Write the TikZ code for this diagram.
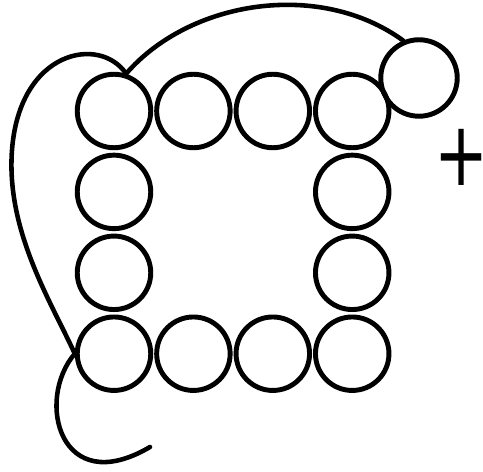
\documentclass[tikz,border=0pt]{standalone}
\usepackage{graphicx}
\usepackage{fontspec}
\newfontfamily\signfont{DejaVu Sans}
\usetikzlibrary{positioning}

\begin{document}
\begin{tikzpicture}[x=0.02cm, y=-0.02cm,
    bead/.style={circle, draw, line width=2.8pt, minimum size=1.47cm, inner sep=0pt},
    strand/.style={line width=2.6pt, line cap=round},
    sign/.style={inner sep=0pt, font=\fontsize{51}{51}\signfont}]
\useasboundingbox (0,0) rectangle (483,472);
% ring of beads, clockwise from top left
\node[bead] (p1) at (114,111) {};
\node[bead, right=0.02cm of p1] (p2) {};
\node[bead, right=0.02cm of p2] (p3) {};
\node[bead, right=0.02cm of p3] (p4) {};
\node[bead, below=0.05cm of p4] (p5) {};
\node[bead, below=0.05cm of p5] (p6) {};
\node[bead, below=0.05cm of p1] (p12) {};
\node[bead, below=0.05cm of p12] (p11) {};
\node[bead, below=0.05cm of p11] (p10) {};
\node[bead, right=0.02cm of p10] (p9) {};
\node[bead, right=0.02cm of p9] (p8) {};
\node[bead, right=0.02cm of p8] (p7) {};
% loose bead and sign
\node[bead, minimum size=1.53cm] (top) at (419,78) {};
\node[sign] (plus) at (462,157) {\scalebox{0.72}[1]{\makebox[0.7em]{+}}};
\coordinate (tail) at (150,447);
% strands
\draw[strand] (p1.72) .. controls (190,0) and (320,-20) .. (top.113);
\draw[strand] (p1.72) .. controls (100,35) and (19.5,50) .. (12,150)
    .. controls (6,230) and (50,300) .. (p10.west);
\draw[strand] (p10.west) .. controls (35,400) and (60,500) .. (tail);
\end{tikzpicture}
\end{document}
